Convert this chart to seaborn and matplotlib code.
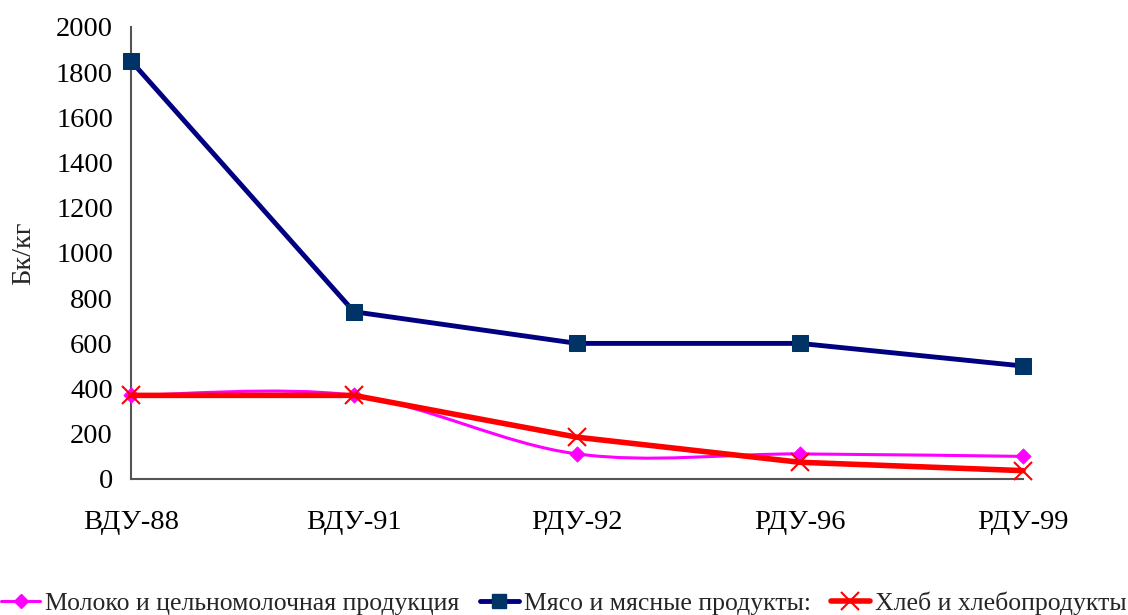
import numpy as np
import pandas as pd
import seaborn as sns
import matplotlib.pyplot as plt
from matplotlib.path import Path
from matplotlib.patches import PathPatch
from matplotlib.lines import Line2D

categories = ["ВДУ-88", "ВДУ-91", "РДУ-92", "РДУ-96", "РДУ-99"]
milk = [370, 370, 111, 111, 100]
meat = [1850, 740, 600, 600, 500]
bread = [370, 370, 185, 74, 37]
labels = ["Молоко и цельномолочная продукция", "Мясо и мясные продукты:", "Хлеб и хлебопродукты"]

sns.set_style("white")
plt.rcParams["font.family"] = ["Liberation Serif", "DejaVu Serif"]

df = pd.DataFrame({"x": np.arange(len(categories)), "milk": milk, "meat": meat, "bread": bread})

fig = plt.figure(figsize=(11.28, 6.15), dpi=100)
ax = fig.add_axes([131 / 1128, 1 - 479 / 615, (1023 - 131) / 1128, (479 - 27) / 615])

# сглаженная линия для молока (как в Excel)
pts = np.column_stack([df["x"].values, df["milk"].values]).astype(float)
verts = [pts[0]]
codes = [Path.MOVETO]
n = len(pts)
for i in range(n - 1):
    p0 = pts[max(i - 1, 0)]
    p1 = pts[i]
    p2 = pts[i + 1]
    p3 = pts[min(i + 2, n - 1)]
    c1 = p1 + (p2 - p0) / 6
    c2 = p2 - (p3 - p1) / 6
    verts += [c1, c2, p2]
    codes += [Path.CURVE4] * 3
ax.add_patch(PathPatch(Path(verts, codes), fill=False, edgecolor="#FF00FF", lw=2.2, zorder=2,
                       clip_on=False))
sns.scatterplot(data=df, x="x", y="milk", ax=ax, marker="D", s=60, color="#FF00FF",
                edgecolor="#FF00FF", zorder=3, clip_on=False)

sns.lineplot(data=df, x="x", y="meat", ax=ax, color="#000080", lw=3.5, marker="s", markersize=11,
             markerfacecolor="#003366", markeredgecolor="#003366", zorder=4, clip_on=False)
sns.lineplot(data=df, x="x", y="bread", ax=ax, color="#FF0000", lw=4, marker="x", markersize=13,
             markeredgewidth=1.5, markeredgecolor="#FF0000", zorder=3, clip_on=False)

ax.set_xlim(0, len(categories) - 1)
ax.set_ylim(0, 2000)
ax.set_yticks(range(0, 2001, 200))
ax.set_xticks(df["x"])
ax.set_xticklabels(categories)
ax.set_xlabel("")
ax.set_ylabel("Бк/кг", fontsize=20.5, labelpad=14)
ax.tick_params(axis="both", labelsize=20.5, colors="black", length=8, width=1.2, direction="out")
ax.tick_params(axis="x", pad=14)
ax.tick_params(axis="y", pad=5)
ax.tick_params(which="both", color="#555555")
for s in ["top", "right"]:
    ax.spines[s].set_visible(False)
for s in ["left", "bottom"]:
    ax.spines[s].set_color("#555555")
    ax.spines[s].set_linewidth(1.5)
ax.grid(False)

handles = [
    Line2D([], [], color="#FF00FF", lw=2.2, marker="D", markersize=7),
    Line2D([], [], color="#000080", lw=3.5, marker="s", markersize=10,
           markerfacecolor="#003366", markeredgecolor="#003366"),
    Line2D([], [], color="#FF0000", lw=4, marker="x", markersize=13, markeredgewidth=1.5),
]
fig.legend(handles, labels, loc="center", bbox_to_anchor=(0.5, 1 - 603 / 615), ncol=3,
           frameon=False, fontsize=18.5, handlelength=1.5, handletextpad=0.2, columnspacing=0.8,
           borderpad=0, borderaxespad=0)

fig.savefig("out.png", dpi=100)
